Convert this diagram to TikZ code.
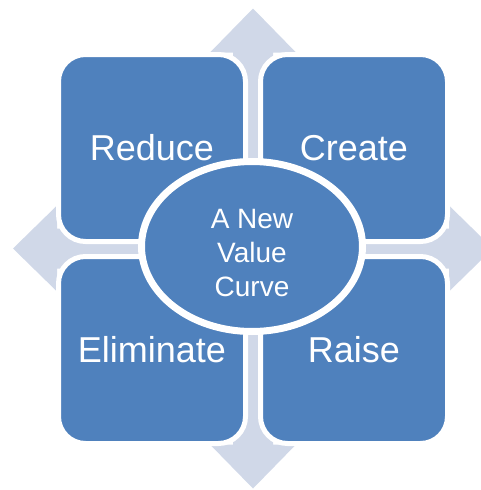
\documentclass[tikz,border=0pt]{standalone}
\usepackage{fontspec}
\setmainfont{Liberation Sans}
\usepackage{xcolor}
\usetikzlibrary{positioning}
\usetikzlibrary{shapes.geometric}
\usetikzlibrary{shadows}
\definecolor{quadblue}{HTML}{4F81BD}
\definecolor{crossgray}{HTML}{D0D8E8}
\tikzset{
	quadbox/.style={rectangle, rounded corners=27pt, fill=quadblue, draw=white, line width=5pt,
		minimum width=187pt, minimum height=187pt, inner sep=0pt, text=white,
		font=\fontsize{36}{40}\selectfont},
	curveellipse/.style={ellipse, fill=quadblue, draw=white, line width=7pt,
		minimum width=221pt, minimum height=170pt, inner sep=0pt,
		drop shadow={opacity=0.25, shadow xshift=0pt, shadow yshift=-3pt}},
	curvetext/.style={text=white, align=center, inner sep=0pt,
		font=\fontsize{28}{34}\selectfont}
}

\begin{document}
\begin{tikzpicture}[x=1pt, y=-1pt]
	\useasboundingbox (0,0) rectangle (481,490);
	% arrows behind the matrix
	\foreach \r in {0,90,180,270}
		\fill[crossgray, shift={(253,248.5)}, rotate=\r] (-20,0) -- (-20,-196) -- (-43,-196) -- (0,-240) -- (43,-196) -- (20,-196) -- (20,0) -- cycle;
	\node[quadbox] (reduce) at (152,148) {Reduce};
	\node[quadbox, right=10pt of reduce] (create) {Create};
	\node[quadbox, below=10pt of reduce] (eliminate) {Eliminate};
	\node[quadbox, below=10pt of create] (raise) {Raise};
	\node[curveellipse] (curve) at (252,246.5) {};
	\node[curvetext] (curvelabel) at ([yshift=-6.5pt]curve.center) {A New\\Value\\Curve};
\end{tikzpicture}
\end{document}
